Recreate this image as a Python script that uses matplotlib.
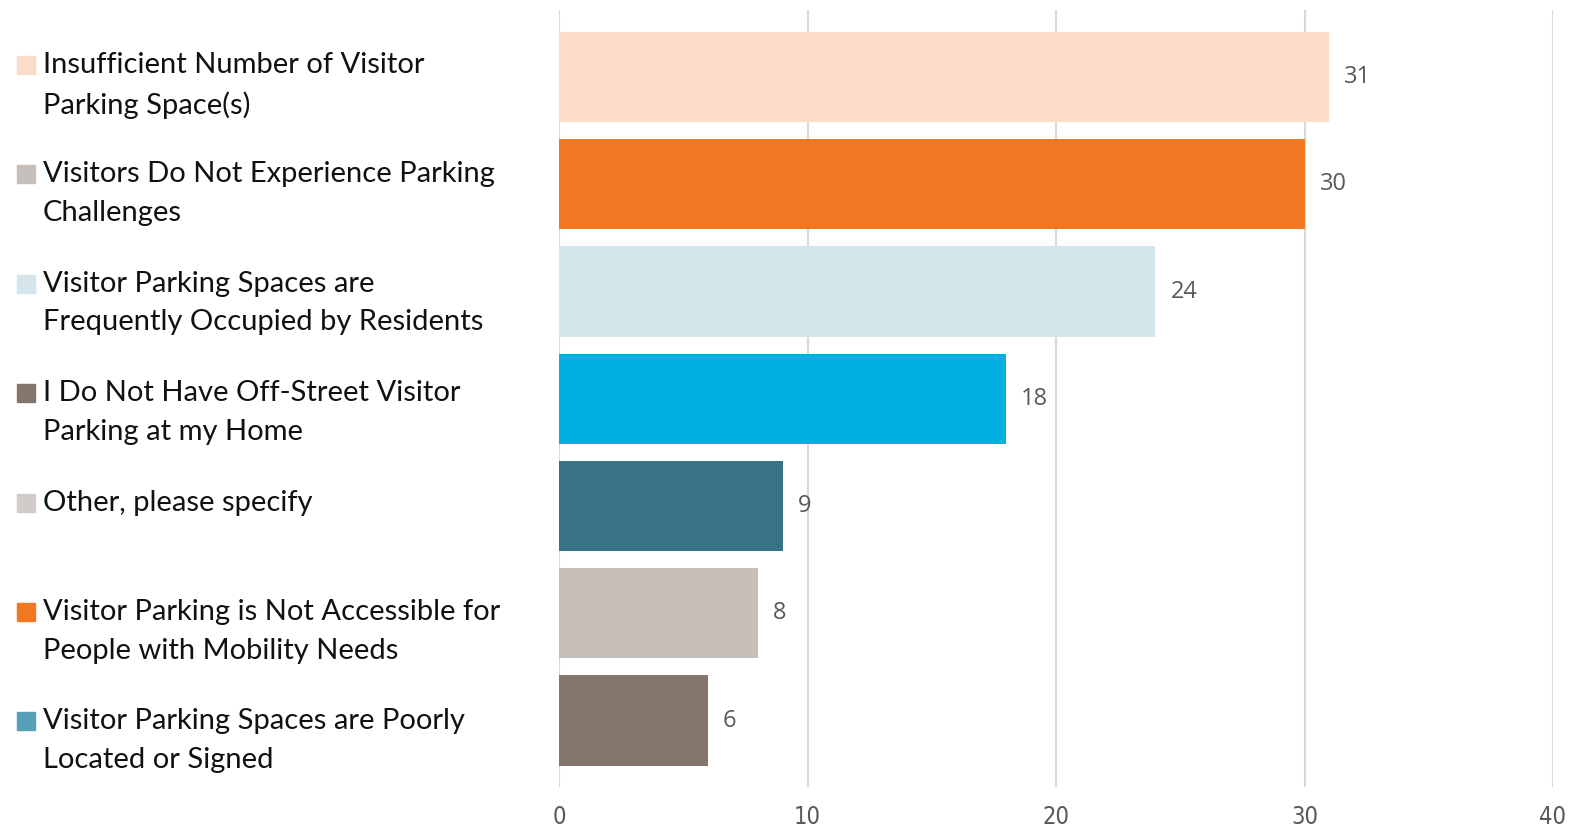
import matplotlib
matplotlib.use("Agg")
import matplotlib.pyplot as plt
from matplotlib.patches import Rectangle

# datos
categorias = [
    "Insufficient Number of Visitor\nParking Space(s)",
    "Visitors Do Not Experience Parking\nChallenges",
    "Visitor Parking Spaces are\nFrequently Occupied by Residents",
    "I Do Not Have Off-Street Visitor\nParking at my Home",
    "Other, please specify",
    "Visitor Parking is Not Accessible for\nPeople with Mobility Needs",
    "Visitor Parking Spaces are Poorly\nLocated or Signed",
]
valores = [31, 30, 24, 18, 9, 8, 6]
colores_barras = ["#FBDCC8", "#F07822", "#D4E5EC", "#00B0E0", "#387385", "#C6BEB9", "#84756D"]
colores_leyenda = ["#FBDCC8", "#C6BEB9", "#D4E5EC", "#84756D", "#D3CBC8", "#F07822", "#57A0B8"]
ticks_x = [0, 10, 20, 30, 40]

W, H = 1571, 832
fig = plt.figure(figsize=(W / 100, H / 100), dpi=100)
ax = fig.add_axes([559 / W, 1 - 787 / H, (1553 - 559) / W, (787 - 10) / H])

posiciones = list(range(len(valores)))
ax.barh(posiciones, valores, height=0.84, color=colores_barras, zorder=2)

for p, v in zip(posiciones, valores):
    ax.annotate(str(v), xy=(v, p), xytext=(15, 0), textcoords="offset pixels",
                ha="left", va="center", fontsize=17, color="#595959",
                family=["Open Sans", "DejaVu Sans"])

ax.set_xlim(0, 40)
ax.set_ylim(6.62, -0.625)
ax.set_xticks(ticks_x)
ax.set_xticklabels([str(t) for t in ticks_x], fontsize=17, color="#595959",
                   family="DejaVu Sans", fontstretch="condensed")
ax.tick_params(axis="x", length=0, pad=13)
ax.set_yticks([])
ax.grid(axis="x", color="#D9D9D9", linewidth=1.5, zorder=0)
for s in ax.spines.values():
    s.set_visible(False)

# leyenda a mano
for i, (cat, col) in enumerate(zip(categorias, colores_leyenda)):
    y_px = 65 + i * 109.4
    fig.patches.append(Rectangle((17 / W, 1 - (y_px + 9) / H), 18 / W, 18 / H,
                                 transform=fig.transFigure, color=col))
    fig.text(43 / W, 1 - (y_px - 13) / H, cat, ha="left", va="top",
             fontsize=21, color="#111111", family=["Lato", "DejaVu Sans"],
             linespacing=1.6, transform=fig.transFigure)

fig.savefig("out.png", dpi=100)
